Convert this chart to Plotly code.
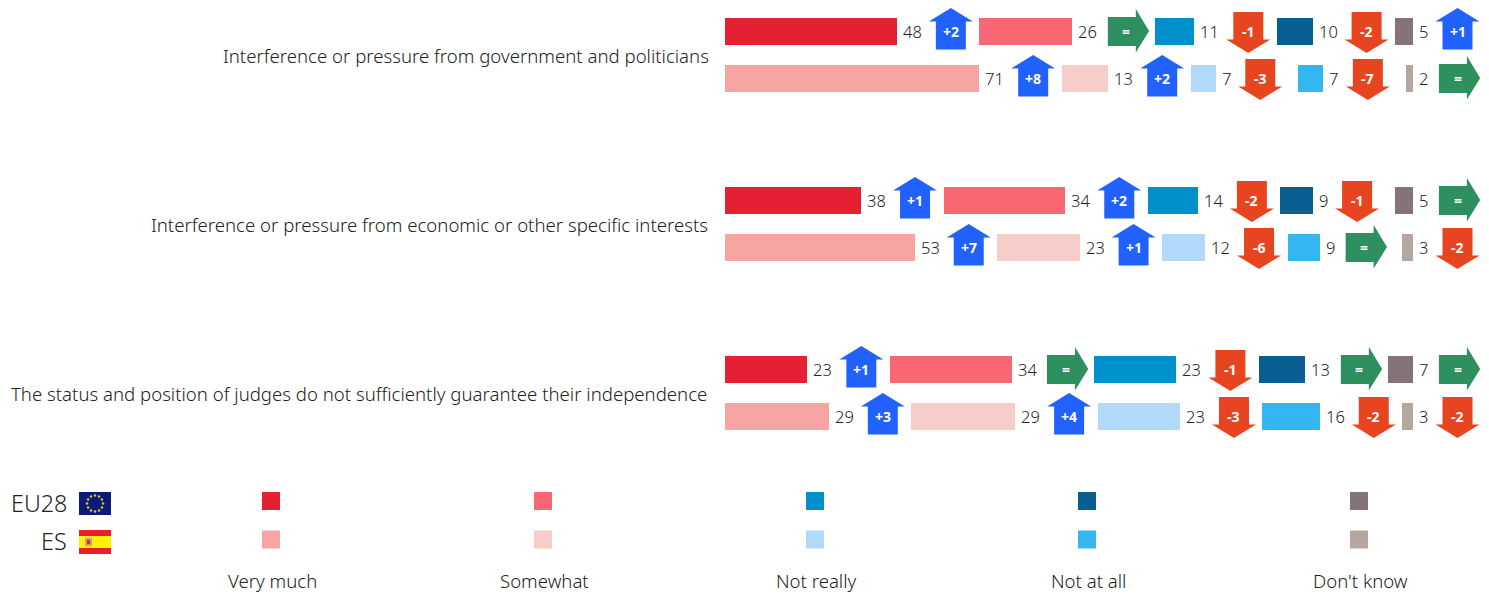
import math
import plotly.graph_objects as go

questions = [
    "Interference or pressure from government and politicians",
    "Interference or pressure from economic or other specific interests",
    "The status and position of judges do not sufficiently guarantee their independence",
]
answers = ["Very much", "Somewhat", "Not really", "Not at all", "Don't know"]
eu28_values = [[48, 26, 11, 10, 5], [38, 34, 14, 9, 5], [23, 34, 23, 13, 7]]
es_values = [[71, 13, 7, 7, 2], [53, 23, 12, 9, 3], [29, 29, 23, 16, 3]]
eu28_change = [[2, 0, -1, -2, 1], [1, 2, -2, -1, 0], [1, 0, -1, 0, 0]]
es_change = [[8, 2, -3, -7, 0], [7, 1, -6, 0, -2], [3, 4, -3, -2, -2]]
eu28_colors = ["#E52032", "#F96772", "#0090CC", "#0A5F92", "#857378"]
es_colors = ["#F7A5A3", "#F6CDC9", "#B0D9FA", "#34B6F0", "#B5A79F"]

FONT = "Noto Sans"
TEXT = "#222222"
UP, DOWN, FLAT = "#2162FF", "#E64520", "#2E8F5F"
SCALE = 3.58      # px per percentage point
ORIGIN = 725      # px of zero
GAP = 82.5        # px between one bar's end and the next bar's start
W, H = 1489, 594
ROW_Y = [31.5, 78.5]
GROUP_STEP = 169


def dx(px):
    return (px - ORIGIN) / SCALE


def fmt(v):
    return "=" if v == 0 else f"{v:+d}"


def arrow_path(cx, yc, v):
    """cx in percentage units, yc in px; geometry offsets in px."""
    X = lambda off: cx + off / SCALE
    if v > 0:
        p = [(-15, 18), (-15, -10), (-22, -10), (0, -23.5), (22, -10), (15, -10), (15, 18)]
    elif v < 0:
        p = [(-15, -19.5), (-15, 8), (-22, 8), (0, 21.5), (22, 8), (15, 8), (15, -19.5)]
    else:
        p = [(-18.6, -14.5), (9.4, -14.5), (9.4, -22.5), (22.7, -0.5), (9.4, 21), (9.4, 14.5), (-18.6, 14.5)]
    return "M" + " L".join(f"{X(a):.3f},{yc + b:.2f}" for a, b in p) + " Z"


fig = go.Figure()
shapes, annotations = [], []


def note(px, y, text, size, anchor="center", color=TEXT, weight=300):
    annotations.append(dict(
        x=dx(px), y=y, text=text, showarrow=False,
        xanchor=anchor, yanchor="middle", xref="x", yref="y",
        font=dict(family=FONT, size=size, color=color, weight=weight),
        borderpad=0, borderwidth=0, align="left"))


for g, q in enumerate(questions):
    top = g * GROUP_STEP
    note(709 - g, top + 55, q, 18.6, "right")
    for r, (vals, chg, cols) in enumerate([
        (eu28_values[g], eu28_change[g], eu28_colors),
        (es_values[g], es_change[g], es_colors),
    ]):
        yc = top + ROW_Y[r]
        pos = 0.0
        for i, (v, c, col) in enumerate(zip(vals, chg, cols)):
            fig.add_trace(go.Bar(
                x=[v], y=[yc], base=[pos], width=27, orientation="h",
                marker=dict(color=col, line=dict(width=0)),
                name=f"{answers[i]}", showlegend=False, hoverinfo="x+name"))
            end = pos + v
            annotations.append(dict(
                x=end, y=yc, xshift=5, text=str(v), showarrow=False, xanchor="left",
                yanchor="middle", font=dict(family=FONT, size=16.5, color=TEXT, weight=300),
                borderpad=0))
            # the arrow follows the value label, so one-digit labels pull it closer
            cx = end + (54 if v >= 10 else 44.5) / SCALE
            color = UP if c > 0 else DOWN if c < 0 else FLAT
            shapes.append(dict(type="path", path=arrow_path(cx, yc, c),
                               fillcolor=color, line=dict(width=0), layer="above"))
            annotations.append(dict(
                x=cx, y=yc, text=f"<b>{fmt(c)}</b>", showarrow=False, xanchor="center",
                yanchor="middle", font=dict(family=FONT, size=14, color="white"),
                borderpad=0))
            pos = end + GAP / SCALE

# legend grid
LEG_X = [271, 543, 815, 1087, 1359]
for i, a in enumerate(answers):
    fig.add_trace(go.Scatter(
        x=[dx(LEG_X[i]), dx(LEG_X[i])], y=[501, 539.5], mode="markers",
        marker=dict(symbol="square", size=18, color=[eu28_colors[i], es_colors[i]], line=dict(width=0)),
        showlegend=False, hoverinfo="skip"))
    note(LEG_X[i] + 1.5, 580, a, 18.6)

note(67, 503, "EU28", 23.3, "right")
note(67, 541, "ES", 23.3, "right")


def rect(x0, y0, x1, y1, color):
    shapes.append(dict(type="rect", x0=dx(x0), x1=dx(x1), y0=y0, y1=y1,
                       fillcolor=color, line=dict(width=0), layer="below"))


# EU flag
rect(79, 492, 111, 515, "#0B1B78")
star_x = [dx(95 + 8 * math.sin(k * math.pi / 6)) for k in range(12)]
star_y = [503.5 - 8 * math.cos(k * math.pi / 6) for k in range(12)]
fig.add_trace(go.Scatter(x=star_x, y=star_y, mode="markers",
                         marker=dict(symbol="circle", size=2.5, color="#D9C43A", line=dict(width=0)),
                         showlegend=False, hoverinfo="skip"))
# ES flag
rect(79, 530, 111, 554, "#EE1C25")
rect(79, 536, 111, 548, "#FFF200")
rect(85, 538, 92, 546, "#D89A7A")
rect(87, 540, 90, 544, "#C0392B")

fig.update_layout(
    width=W, height=H, margin=dict(l=0, r=0, t=0, b=0), autosize=False,
    paper_bgcolor="white", plot_bgcolor="white", barmode="overlay", bargap=0,
    showlegend=False, shapes=shapes, annotations=annotations,
    xaxis=dict(range=[dx(0), dx(W)], visible=False, fixedrange=True),
    yaxis=dict(range=[H, 0], visible=False, fixedrange=True),
)
fig.write_html("out.html", config={"displayModeBar": False},
               post_script="document.body.style.margin='0';document.body.style.overflow='hidden';")
